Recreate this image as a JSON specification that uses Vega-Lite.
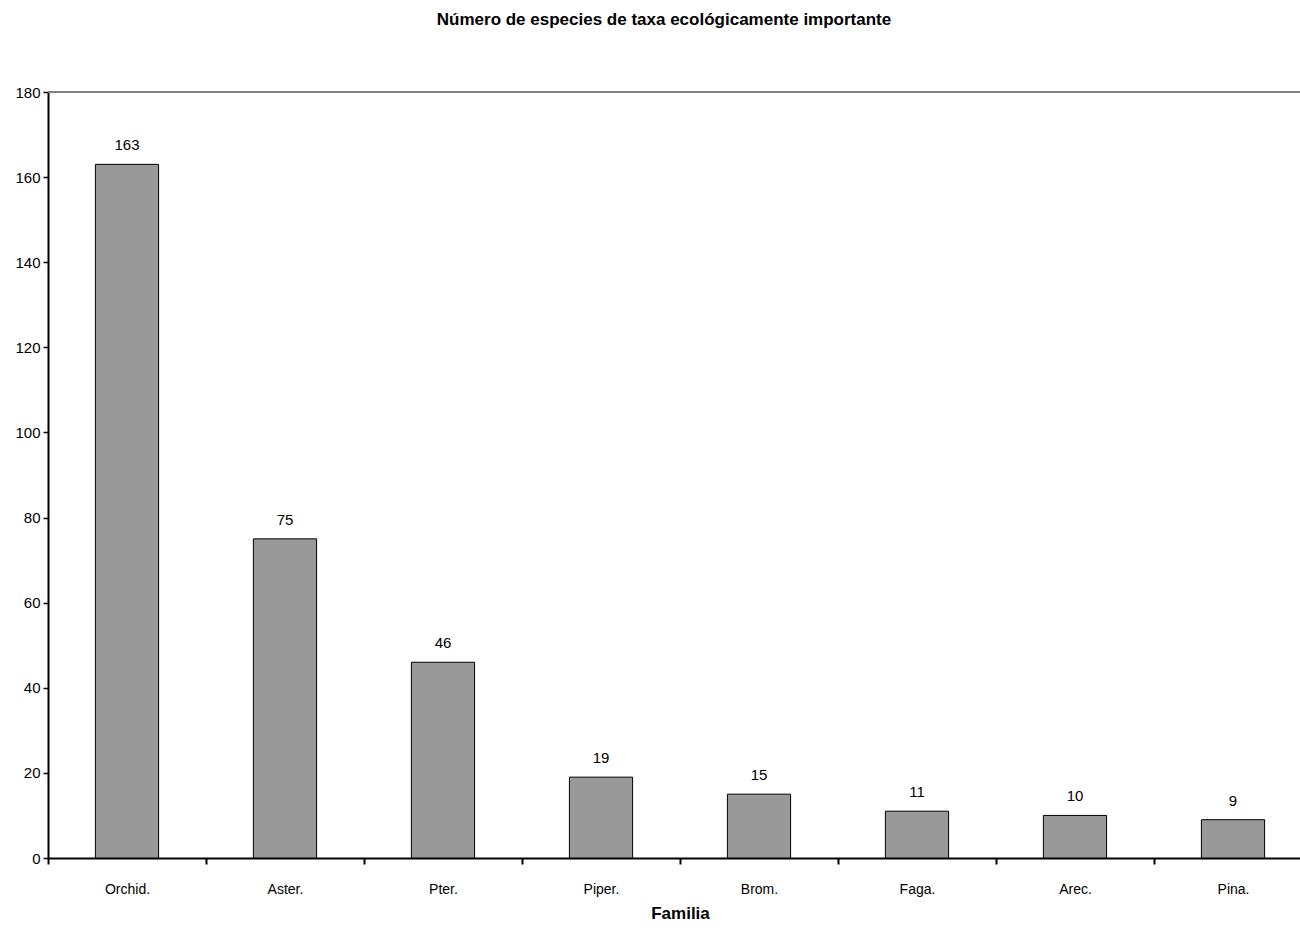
{
  "$schema": "https://vega.github.io/schema/vega-lite/v6.json",
  "width": 1264,
  "height": 766,
  "autosize": {"type": "none"},
  "padding": {"left": 48, "top": 92, "right": 0, "bottom": 81},
  "background": "white",
  "title": {
    "text": "Número de especies de taxa ecológicamente importante",
    "font": "Liberation Sans",
    "fontSize": 17,
    "fontWeight": "bold",
    "color": "black",
    "anchor": "middle",
    "dx": -16,
    "offset": 56
  },
  "config": {
    "view": {"stroke": null},
    "axis": {"grid": false}
  },
  "data": {
    "values": [
      {"familia": "Orchid.", "n": 163},
      {"familia": "Aster.", "n": 75},
      {"familia": "Pter.", "n": 46},
      {"familia": "Piper.", "n": 19},
      {"familia": "Brom.", "n": 15},
      {"familia": "Faga.", "n": 11},
      {"familia": "Arec.", "n": 10},
      {"familia": "Pina.", "n": 9}
    ]
  },
  "layer": [
    {
      "mark": {"type": "rule", "color": "#808080", "strokeWidth": 2},
      "encoding": {"y": {"datum": 180, "type": "quantitative"}}
    },
    {
      "mark": {"type": "bar", "color": "#999999", "stroke": "black", "strokeWidth": 1, "width": {"band": 0.4}},
      "encoding": {
        "x": {
          "field": "familia", "type": "nominal", "sort": null,
          "scale": {"paddingInner": 0, "paddingOuter": 0},
          "axis": {
            "title": "Familia",
            "titleFont": "Liberation Sans",
            "titleFontSize": 17,
            "titleFontWeight": "bold",
            "titleColor": "black",
            "titlePadding": 9,
            "labelAngle": 0,
            "labelFont": "Liberation Sans",
            "labelFontSize": 14,
            "labelColor": "black",
            "labelPadding": 18,
            "tickBand": "extent",
            "tickSize": 6,
            "tickColor": "black",
            "tickWidth": 2,
            "domainColor": "black",
            "domainWidth": 2
          }
        },
        "y": {
          "field": "n", "type": "quantitative",
          "scale": {"domain": [0, 180], "nice": false},
          "axis": {
            "title": null,
            "values": [0, 20, 40, 60, 80, 100, 120, 140, 160, 180],
            "labelFont": "Liberation Sans",
            "labelFontSize": 15,
            "labelColor": "black",
            "labelPadding": 3,
            "tickSize": 5,
            "tickColor": "black",
            "tickWidth": 1.5,
            "domainColor": "black",
            "domainWidth": 2
          }
        }
      }
    },
    {
      "mark": {"type": "text", "baseline": "bottom", "dy": -11, "font": "Liberation Sans", "fontSize": 15, "color": "black"},
      "encoding": {
        "x": {"field": "familia", "type": "nominal", "sort": null},
        "y": {"field": "n", "type": "quantitative"},
        "text": {"field": "n", "type": "quantitative"}
      }
    }
  ]
}
